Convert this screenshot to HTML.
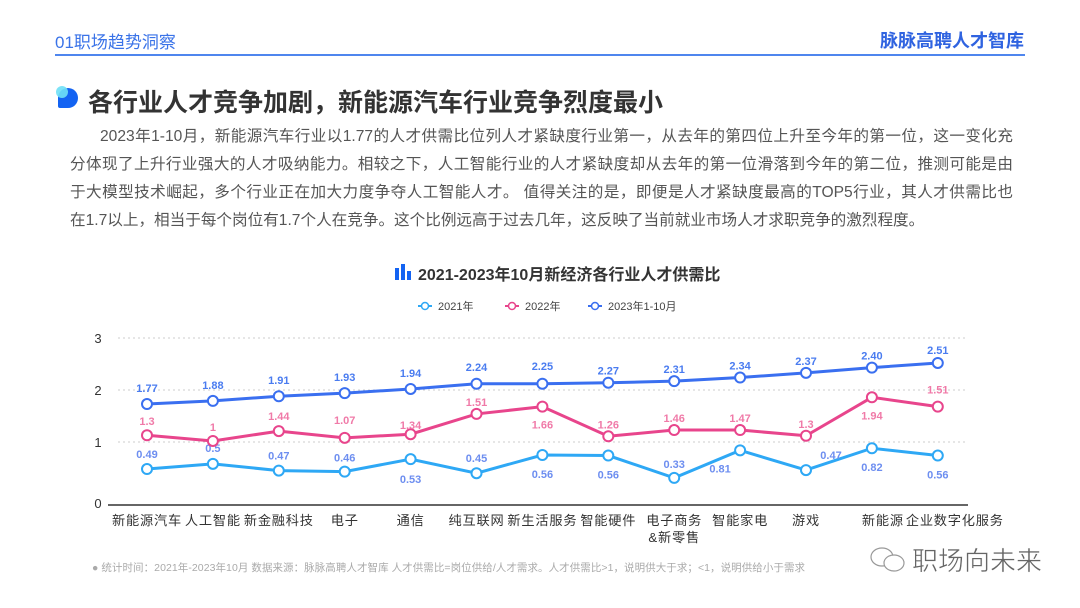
<!DOCTYPE html>
<html><head><meta charset="utf-8">
<style>
body{margin:0;width:1080px;height:608px;background:#fff;position:relative;overflow:hidden;font-family:"Liberation Sans","Noto Sans CJK SC",sans-serif;}
.abs{position:absolute;}
.pl{position:absolute;font-size:15.6px;color:#555;text-align:justify;text-align-last:justify;white-space:nowrap;height:28px;line-height:28px;}
</style></head>
<body>
<div class="abs" style="left:55px;top:28px;font-size:17px;color:#3a73e8;">01职场趋势洞察</div>
<div class="abs" style="right:56px;top:27px;font-size:18px;font-weight:bold;color:#2f63e0;">脉脉高聘人才智库</div>
<div class="abs" style="left:55px;top:54px;width:970px;height:2px;background:#4f86ee;"></div>

<div class="abs" style="left:56px;top:86px;width:22px;height:22px;">
  <div class="abs" style="left:2px;top:2px;width:20px;height:20px;background:#1363f2;border-radius:10px 10px 10px 2px;"></div>
  <div class="abs" style="left:0;top:0;width:12px;height:12px;background:#6fe0f6;border-radius:50%;opacity:.9"></div>
</div>
<div class="abs" style="left:88px;top:83px;font-size:25px;font-weight:bold;color:#333;">各行业人才竞争加剧，新能源汽车行业竞争烈度最小</div>

<div>
<div class="pl" style="left:100px;top:123px;width:913px;">2023年1-10月，新能源汽车行业以1.77的人才供需比位列人才紧缺度行业第一，从去年的第四位上升至今年的第一位，这一变化充</div>
<div class="pl" style="left:70px;top:151px;width:943px;">分体现了上升行业强大的人才吸纳能力。相较之下，人工智能行业的人才紧缺度却从去年的第一位滑落到今年的第二位，推测可能是由</div>
<div class="pl" style="left:70px;top:179px;width:943px;">于大模型技术崛起，多个行业正在加大力度争夺人工智能人才。 值得关注的是，即便是人才紧缺度最高的TOP5行业，其人才供需比也</div>
<div class="pl" style="left:70px;top:207px;text-align-last:left;">在1.7以上，相当于每个岗位有1.7个人在竞争。这个比例远高于过去几年，这反映了当前就业市场人才求职竞争的激烈程度。</div>
</div>

<svg class="abs" style="left:0;top:0" width="1080" height="608">
  <g>
    <rect x="395" y="268" width="4" height="12" fill="#1363f2"/><rect x="401" y="264" width="4" height="16" fill="#1363f2"/><rect x="407" y="271" width="4" height="9" fill="#1363f2"/>
    <text x="418" y="280" font-size="16" font-weight="bold" fill="#333">2021-2023年10月新经济各行业人才供需比</text>
  </g>
  <g id="legend"></g>
  <g id="grid"></g>
  <g id="plot"></g>
  <g id="xl"></g>
  <text x="92" y="571" font-size="10.5" fill="#aaa" textLength="713">●  统计时间：2021年-2023年10月      数据来源：脉脉高聘人才智库      人才供需比=岗位供给/人才需求。人才供需比&gt;1，说明供大于求；&lt;1，说明供给小于需求</text>
  <g>
    <ellipse cx="882" cy="557" rx="11" ry="9" fill="none" stroke="#999" stroke-width="1.2"/>
    <ellipse cx="894" cy="563" rx="10" ry="8" fill="#fff" stroke="#999" stroke-width="1.2"/>
    <text x="912" y="570" font-size="26" fill="#666" stroke="#fff" stroke-width="0.5">职场向未来</text>
  </g>
</svg>

<script>
const categories=["新能源汽车","人工智能","新金融科技","电子","通信","纯互联网","新生活服务","智能硬件","电子商务\n&新零售","智能家电","游戏","新能源","企业数字化服务"];
const values2021=[0.48,0.58,0.45,0.43,0.67,0.40,0.75,0.74,0.31,0.84,0.46,0.88,0.74];
const values2022=[1.13,1.02,1.21,1.08,1.15,1.54,1.68,1.11,1.23,1.23,1.12,1.86,1.68];
const values2023=[1.73,1.79,1.88,1.94,2.02,2.12,2.12,2.14,2.17,2.24,2.33,2.43,2.52];
const labels2021=["0.49","0.5","0.47","0.46","0.53","0.45","0.56","0.56","0.33","0.81","0.47","0.82","0.56"];
const labels2022=["1.3","1","1.44","1.07","1.34","1.51","1.66","1.26","1.46","1.47","1.3","1.94","1.51"];
const labels2023=["1.77","1.88","1.91","1.93","1.94","2.24","2.25","2.27","2.31","2.34","2.37","2.40","2.51"];
const yTicks=[0,1,2,3];
const NS="http://www.w3.org/2000/svg";
function mk(t,a,p){const e=document.createElementNS(NS,t);for(const k in a)e.setAttribute(k,a[k]);p.appendChild(e);return e;}
const x=i=>147+i*65.9;
const y=v=>494-52*v;
const grid=document.getElementById('grid');
yTicks.forEach(t=>{
  if(t>0){const l=mk('line',{x1:118,x2:968,y1:y(t),y2:y(t),stroke:'#ccc','stroke-dasharray':'2,3'},grid);
  
  }
  const tx=mk('text',{x:98,y:(t===0?508:y(t)+5),'font-size':13,fill:'#333','text-anchor':'middle'},grid);
  tx.textContent=t;
  
  
});
const ax=mk('line',{x1:108,x2:968,y1:505,y2:505,stroke:'#333','stroke-width':1.5},grid);


const xl=document.getElementById('xl');
const labelShift=[0,0,0,0,0,0,0,0,0,0,0,11,17];
categories.forEach((c,i)=>{
  c.split('\n').forEach((s,j)=>{
    const t=mk('text',{x:x(i)+labelShift[i],y:525+j*17,'font-size':13.2,'letter-spacing':0.8,fill:'#333','text-anchor':'middle'},xl);
    t.textContent=s;
    
    
  });
});
const series=[
 {v:values2021,l:labels2021,c:'#2ea8f5',lc:'#6d8ef0',n:'2021',dy:[-15,-16,-15,-14,20,-15,19,19,-14,18,-15,19,19],dx:[0,0,0,0,0,0,0,0,0,-20,25,0,0]},
 {v:values2022,l:labels2022,c:'#e8458c',lc:'#f07aa8',n:'2022',dy:[-14,-14,-15,-18,-9,-12,18,-12,-12,-12,-12,18,-17],dx:[0,0,0,0,0,0,0,0,0,0,0,0,0]},
 {v:values2023,l:labels2023,c:'#3a6ff0',lc:'#4a7cf0',n:'2023',dy:[-16,-16,-16,-16,-16,-17,-18,-12,-12,-12,-12,-12,-13],dx:[0,0,0,0,0,0,0,0,0,0,0,0,0]}
];
const plot=document.getElementById('plot');
series.forEach(s=>{
  const p=mk('polyline',{points:s.v.map((v,i)=>x(i)+','+y(v)).join(' '),fill:'none',stroke:s.c,'stroke-width':3},plot);
  
  
  s.v.forEach((v,i)=>{
    const c=mk('circle',{cx:x(i),cy:y(v),r:5,fill:'#fff',stroke:s.c,'stroke-width':2},plot);
    
    
    const t=mk('text',{x:x(i)+s.dx[i],y:y(v)+s.dy[i]+4,'font-size':11,'font-weight':'bold',fill:s.lc,'text-anchor':'middle'},plot);
    t.textContent=s.l[i];
    
    
  });
});
const lg=document.getElementById('legend');
[['#2ea8f5','2021年',418],['#e8458c','2022年',505],['#3a6ff0','2023年1-10月',588]].forEach(d=>{
  const g=mk('g',{},lg);
  
  
  mk('line',{x1:d[2],x2:d[2]+14,y1:306,y2:306,stroke:d[0],'stroke-width':2},g);
  mk('circle',{cx:d[2]+7,cy:306,r:3.5,fill:'#fff',stroke:d[0],'stroke-width':1.5},g);
  const t=mk('text',{x:d[2]+20,y:310,'font-size':11,fill:'#444'},g);
  t.textContent=d[1];
});
</script>
</body></html>
